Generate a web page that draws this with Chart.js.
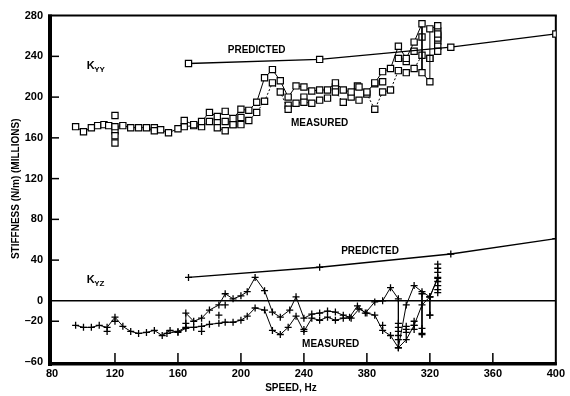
<!DOCTYPE html>
<html>
<head>
<meta charset="utf-8">
<script src="https://cdn.jsdelivr.net/npm/chart.js@4.4.1/dist/chart.umd.min.js"></script>
<style>
  html, body { margin: 0; padding: 0; background: #fff; }
  #wrap { width: 570px; height: 396px; }
</style>
</head>
<body>
<div id="wrap"><canvas id="stiffnessChart" width="570" height="396"></canvas></div>
<script>
// axis ticks
const speedTicks = [80, 120, 160, 200, 240, 280, 320, 360, 400];
const speedTickLabels = ["80", "120", "160", "200", "240", "380", "320", "360", "400"];
const stiffTicks = [-60, -20, 0, 40, 80, 120, 160, 200, 240, 280];

// predicted curves
const predictedSpeed = [166.7, 250, 333.3, 400];
const kyyPredicted = [233, 237, 249, 262];
const kyzPredicted = [23, 33, 46, 61];

// Kyy measured runs
const kyyUpperSpeed = [95, 100, 105, 109, 113, 116, 120, 125, 130, 135, 140, 145, 149, 154, 160, 164, 170, 175, 180, 185,
  190, 195, 200, 205, 210, 215, 220, 225, 230, 235, 240, 245, 250, 255, 260, 265, 270, 275, 280, 285,
  290, 295, 300, 305, 310, 315, 315, 320, 320, 325];
const kyyUpper = [171, 166, 170, 172, 173, 172, 171, 172, 170, 170, 170, 167, 168, 165, 169, 177, 173, 176, 185, 181,
  186, 179, 188, 187, 195, 219, 227, 216, 200, 211, 210, 206, 207, 207, 214, 207, 205, 210, 205, 214,
  225, 228, 250, 238, 254, 272, 224, 215, 267, 270];

const kyyLowerSpeed = [164, 170, 175, 180, 185, 190, 195, 200, 205, 210, 215, 220, 225, 230, 235, 240, 245, 250, 255, 260,
  265, 270, 275, 280, 285, 290, 295, 300, 305, 310, 315, 320, 325];
const kyyLower = [171, 172, 171, 176, 170, 167, 173, 173, 177, 185, 196, 214, 205, 188, 194, 195, 194, 197, 199, 205,
  195, 200, 197, 203, 188, 205, 207, 226, 224, 228, 241, 238, 245];

const kyyExtraSpeed = [120, 120, 120, 120, 145, 185, 190, 195, 200, 230, 240, 260, 274, 285, 290, 300, 305, 310, 315, 320,
  325, 325, 325, 325, 325, 325];
const kyyExtra = [182, 167, 162, 155, 170, 176, 176, 173, 180, 192, 200, 210, 211, 213, 215, 238, 235, 245, 259, 238,
  265, 260, 255, 250, 258, 262];

// Kyz measured runs
const kyzUpperSpeed = [95, 100, 105, 110, 115, 120, 125, 130, 135, 140, 145, 150, 155, 160, 165, 165, 170, 175, 180, 186,
  190, 195, 200, 204, 209, 215, 220, 225, 231, 235, 240, 245, 250, 255, 260, 265, 269, 274, 279, 285,
  290, 295, 300, 300, 305, 310, 315, 320, 325];
const kyzUpper = [-24, -26, -26, -24, -26, -16, -25, -30, -32, -31, -29, -34, -29, -31, -27, -12, -20, -17, -9, -4,
  7, 2, 5, 9, 23, 10, -11, -16, -9, 4, -17, -13, -12, -10, -11, -14, -16, -5, -12, -1,
  0, 13, 2, -46, -4, 15, 9, 4, 22];

const kyzLowerSpeed = [153, 160, 165, 170, 175, 180, 186, 190, 195, 200, 204, 209, 215, 220, 225, 230, 235, 240, 245, 250,
  255, 260, 265, 270, 275, 280, 285, 290, 295, 300, 305, 310, 315, 320, 325];
const kyzLower = [-32, -30, -26, -26, -25, -23, -22, -21, -21, -19, -15, -7, -9, -29, -33, -26, -15, -30, -17, -19,
  -16, -19, -17, -17, -8, -12, -14, -29, -34, -46, -38, -24, -4, 4, 23];

const kyzExtraSpeed = [115, 120, 165, 175, 186, 190, 240, 290, 300, 300, 300, 300, 300, 305, 305, 305, 310, 310, 310, 315,
  315, 320, 325, 325, 325, 325, 325, 325, 325];
const kyzExtra = [-30, -20, -22, -30, -14, -4, -28, -24, -22, -26, -30, -34, -38, -25, -28, -31, -20, -24, -28, -27,
  -32, -14, 36, 32, 28, 19, 15, 11, 8];

// vertical spreads drawn as stems
const kyzStemSpeed = [315, 320];
const kyzStemTop = [7, 4];
const kyzStemBottom = [-33, -14];

const zip = (xs, ys) => xs.map((x, i) => ({ x, y: ys[i] }));

const FONT = "'Liberation Sans', Arial, sans-serif";

const squares = {
  pointStyle: "rect", pointRadius: 4.4, pointBorderColor: "#000",
  pointBackgroundColor: "#fff", pointBorderWidth: 1.2,
};
const crosses = {
  pointStyle: "cross", pointRadius: 3.5, pointBorderColor: "#000", pointBorderWidth: 1.3,
};

const datasets = [
  { data: zip(predictedSpeed, kyyPredicted), showLine: true, borderColor: "#000", borderWidth: 1.3, ...squares },
  { data: zip(kyyUpperSpeed, kyyUpper), showLine: true, borderColor: "#000", borderWidth: 1, ...squares },
  { data: zip(kyyLowerSpeed, kyyLower), showLine: true, borderColor: "#000", borderWidth: 1, borderDash: [2, 2], ...squares },
  { data: zip(kyyExtraSpeed, kyyExtra), showLine: false, ...squares },
  { data: zip(predictedSpeed, kyzPredicted), showLine: true, borderColor: "#000", borderWidth: 1.3, ...crosses },
  { data: zip(kyzUpperSpeed, kyzUpper), showLine: true, borderColor: "#000", borderWidth: 1, ...crosses },
  { data: zip(kyzLowerSpeed, kyzLower), showLine: true, borderColor: "#000", borderWidth: 1, ...crosses },
  { data: zip(kyzExtraSpeed, kyzExtra), showLine: false, ...crosses },
];
kyzStemSpeed.forEach((s, i) => {
  datasets.push({
    data: [{ x: s, y: kyzStemTop[i] }, { x: s, y: kyzStemBottom[i] }],
    showLine: true, borderColor: "#000", borderWidth: 1, ...crosses,
  });
});

// frame, inward ticks, zero line and text labels
const framePlugin = {
  id: "frame",
  beforeDatasetsDraw(chart) {
    const { ctx, chartArea: a, scales: { x, y } } = chart;
    const seg = (x1, y1, x2, y2) => { ctx.beginPath(); ctx.moveTo(x1, y1); ctx.lineTo(x2, y2); ctx.stroke(); };
    ctx.save();
    ctx.strokeStyle = "#000";
    ctx.lineWidth = 1.5;
    const y0 = y.getPixelForValue(0);
    seg(a.left, y0, a.right, y0);
    x.ticks.forEach(t => {
      if (t.value <= x.min || t.value >= x.max) return;
      const px = x.getPixelForValue(t.value);
      seg(px, a.bottom, px, a.bottom - 9);
    });
    y.ticks.forEach(t => {
      if (t.value <= y.min || t.value >= y.max || t.value === 0) return;
      const py = y.getPixelForValue(t.value);
      seg(a.left, py, a.left + 7, py);
    });
    ctx.lineWidth = 2;
    seg(a.left - 4, a.top, a.right + 1, a.top);
    seg(a.right, a.top, a.right, a.bottom + 3);
    ctx.lineWidth = 4;
    seg(a.left - 2, a.top - 1, a.left - 2, a.bottom + 4);
    ctx.lineWidth = 3.5;
    seg(a.left - 4, a.bottom + 1.8, a.right + 1, a.bottom + 1.8);
    ctx.restore();
  },
  afterDraw(chart) {
    const { ctx, chartArea: a, scales: { x, y } } = chart;
    ctx.save();
    ctx.fillStyle = "#000";
    ctx.textBaseline = "middle";
    ctx.textAlign = "center";
    ctx.font = "bold 10px " + FONT;
    const label = (text, sx, sy) => ctx.fillText(text, x.getPixelForValue(sx), y.getPixelForValue(sy));
    label("PREDICTED", 210, 246);
    label("MEASURED", 250, 174);
    label("PREDICTED", 282, 49);
    label("MEASURED", 257, -43);

    // K with subscript
    const kLabel = (sub, sx, sy) => {
      const px = x.getPixelForValue(sx), py = y.getPixelForValue(sy);
      ctx.textAlign = "left";
      ctx.font = "bold 11px " + FONT;
      ctx.fillText("K", px, py);
      ctx.font = "bold 8px " + FONT;
      ctx.fillText(sub, px + 7.5, py + 4);
    };
    kLabel("YY", 102, 231);
    kLabel("YZ", 102, 20.5);

    // axis titles
    ctx.textAlign = "center";
    ctx.font = "bold 10px " + FONT;
    ctx.fillText("SPEED, Hz", 291, 388);
    ctx.translate(16, (a.top + a.bottom) / 2);
    ctx.rotate(-Math.PI / 2);
    ctx.fillText("STIFFNESS (N/m) (MILLIONS)", 0, 0);
    ctx.restore();
  },
};

const tickFont = { family: FONT, size: 11, weight: "bold" };

new Chart(document.getElementById("stiffnessChart").getContext("2d"), {
  type: "scatter",
  data: { datasets },
  options: {
    responsive: false,
    animation: false,
    devicePixelRatio: 1,
    layout: { padding: { top: 12, right: 6, left: 0, bottom: 0 } },
    plugins: { legend: { display: false }, tooltip: { enabled: false } },
    scales: {
      x: {
        type: "linear", min: 80, max: 400,
        afterBuildTicks: s => { s.ticks = speedTicks.map(v => ({ value: v })); },
        afterFit: s => { s.height = 34; },
        grid: { display: false, drawTicks: false },
        border: { display: false },
        ticks: {
          color: "#000", font: tickFont, padding: 5, maxRotation: 0, autoSkip: false,
          callback: (v, i) => speedTickLabels[i],
        },
      },
      y: {
        type: "linear", min: -60, max: 280,
        afterBuildTicks: s => { s.ticks = stiffTicks.map(v => ({ value: v })); },
        afterFit: s => { s.width = 52; },
        grid: { display: false, drawTicks: false },
        border: { display: false },
        ticks: {
          color: "#000", font: tickFont, padding: 9, autoSkip: false,
          callback: v => (v < 0 ? "\u2013" + Math.abs(v) : String(v)),
        },
      },
    },
  },
  plugins: [framePlugin],
});
</script>
</body>
</html>
